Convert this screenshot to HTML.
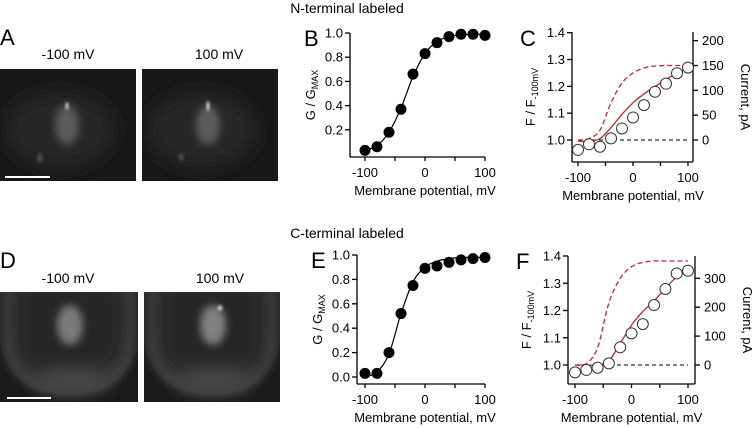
<!DOCTYPE html>
<html><head><meta charset="utf-8">
<style>
html,body{margin:0;padding:0;background:#fff;}
svg{display:block;font-family:"Liberation Sans",Arial,sans-serif;}
</style></head>
<body>
<svg id="fig" width="754" height="428" viewBox="0 0 754 428">
<defs>
<filter id="blur8" x="-50%" y="-50%" width="200%" height="200%"><feGaussianBlur stdDeviation="9"/></filter>
<filter id="blur4" x="-50%" y="-50%" width="200%" height="200%"><feGaussianBlur stdDeviation="4"/></filter>
<filter id="blur1" x="-50%" y="-50%" width="200%" height="200%"><feGaussianBlur stdDeviation="1.2"/></filter>
<clipPath id="cA1"><rect x="0" y="69" width="136" height="112"/></clipPath>
<clipPath id="cA2"><rect x="142" y="69" width="136" height="112"/></clipPath>
<clipPath id="cD1"><rect x="0" y="292" width="138" height="110"/></clipPath>
<clipPath id="cD2"><rect x="144" y="292" width="136" height="110"/></clipPath>
</defs>

<text x="347" y="13" font-size="14" text-anchor="middle">N-terminal labeled</text>
<text x="347" y="238" font-size="14" text-anchor="middle">C-terminal labeled</text>

<g>
<text x="0" y="45" font-size="22">A</text>
<text x="68" y="59" font-size="14" text-anchor="middle">-100 mV</text>
<text x="219" y="59" font-size="14" text-anchor="middle">100 mV</text>
<g clip-path="url(#cA1)">
<rect x="0" y="69" width="136" height="112" fill="#181818"/>
<ellipse cx="60" cy="130" rx="55" ry="38" fill="#262626" filter="url(#blur8)"/>
<ellipse cx="67" cy="125" rx="12" ry="20" fill="#5c5c5c" filter="url(#blur4)"/>
<ellipse cx="67" cy="106" rx="1.5" ry="4" fill="#ccc" filter="url(#blur1)"/>
<ellipse cx="40" cy="158" rx="3" ry="5" fill="#4a4a4a" filter="url(#blur1)"/>
<rect x="5" y="176" width="45" height="2" fill="#fff"/>
</g>
<g clip-path="url(#cA2)">
<rect x="142" y="69" width="136" height="112" fill="#181818"/>
<ellipse cx="202" cy="130" rx="55" ry="38" fill="#262626" filter="url(#blur8)"/>
<ellipse cx="208" cy="125" rx="12" ry="20" fill="#5c5c5c" filter="url(#blur4)"/>
<ellipse cx="208" cy="106" rx="1.5" ry="5" fill="#ddd" filter="url(#blur1)"/>
<ellipse cx="181" cy="157" rx="3" ry="4" fill="#444" filter="url(#blur1)"/>
</g>
</g>

<g>
<text x="0" y="268" font-size="22">D</text>
<text x="68" y="283" font-size="14" text-anchor="middle">-100 mV</text>
<text x="220" y="283" font-size="14" text-anchor="middle">100 mV</text>
<g clip-path="url(#cD1)">
<rect x="0" y="292" width="138" height="110" fill="#1a1a1a"/>
<path d="M2,280 L2,340 Q6,395 69,396 Q132,395 136,340 L136,280 Z" fill="#444" filter="url(#blur4)"/>
<path d="M10,280 L10,338 Q14,383 69,384 Q124,383 128,338 L128,280 Z" fill="#262626" filter="url(#blur8)"/>
<ellipse cx="72" cy="380" rx="38" ry="12" fill="#4a4a4a" filter="url(#blur8)"/>
<ellipse cx="70" cy="325" rx="13" ry="20" fill="#7a7a7a" filter="url(#blur4)"/>
<rect x="7" y="397" width="44" height="2" fill="#fff"/>
</g>
<g clip-path="url(#cD2)">
<rect x="144" y="292" width="136" height="110" fill="#1a1a1a"/>
<path d="M146,280 L146,340 Q150,395 212,396 Q274,395 278,340 L278,280 Z" fill="#444" filter="url(#blur4)"/>
<path d="M154,280 L154,338 Q158,383 212,384 Q266,383 270,338 L270,280 Z" fill="#262626" filter="url(#blur8)"/>
<ellipse cx="214" cy="380" rx="38" ry="12" fill="#4a4a4a" filter="url(#blur8)"/>
<ellipse cx="213" cy="325" rx="13" ry="20" fill="#808080" filter="url(#blur4)"/>
<ellipse cx="220" cy="308" rx="2.5" ry="2.5" fill="#ccc" filter="url(#blur1)"/>
</g>
</g>
</svg>

<script>
// ---- data ----
const voltages = [-100,-80,-60,-40,-20,0,20,40,60,80,100];
const gB = [0.03,0.06,0.18,0.37,0.66,0.83,0.92,0.97,0.99,0.99,0.98];
const fitB = [0.03,0.07,0.18,0.38,0.64,0.83,0.93,0.97,0.985,0.99,0.99];
const gE = [0.03,0.03,0.20,0.52,0.75,0.89,0.91,0.94,0.96,0.97,0.98];
const fitE = [0.0,0.04,0.19,0.52,0.78,0.90,0.95,0.97,0.98,0.98,0.98];
const fC = [0.963,0.984,0.975,1.006,1.043,1.084,1.13,1.18,1.21,1.249,1.27];
const iC_solid = [-2,-3,3,25,52,75,93,108,122,135,145];
const iC_dashed = [0,3,20,75,115,135,145,149,150,150,150];
const fF = [0.973,0.982,0.99,1.006,1.065,1.116,1.15,1.22,1.279,1.336,1.346];
const iF_solid = [0,0,0,15,75,138,185,222,265,305,325];
const iF_dashed = [0,5,60,215,300,340,355,360,360,360,360];
const xTicks = [-100,-50,0,50,100];
const xTickLabels = [-100,0,100];
const yTicksB = [0.2,0.4,0.6,0.8,1.0];
const yTicksE = [0.0,0.2,0.4,0.6,0.8,1.0];
const yTicksF = [1.0,1.1,1.2,1.3,1.4];
const rTicksC = [0,50,100,150,200];
const rTicksF = [0,100,200,300];

const svg = document.getElementById('fig');
const NS = 'http://www.w3.org/2000/svg';
function mk(tag, attrs, parent){
  const e = document.createElementNS(NS, tag);
  for (const k in attrs) e.setAttribute(k, attrs[k]);
  (parent||svg).appendChild(e);
  return e;
}
function lin(d0,d1,r0,r1){ return v => r0 + (v-d0)*(r1-r0)/(d1-d0); }
function smoothPath(pts){
  let d = 'M'+pts[0][0].toFixed(1)+','+pts[0][1].toFixed(1);
  for (let i=0;i<pts.length-1;i++){
    const p0=pts[i-1]||pts[i], p1=pts[i], p2=pts[i+1], p3=pts[i+2]||p2;
    const c1=[p1[0]+(p2[0]-p0[0])/6, p1[1]+(p2[1]-p0[1])/6];
    const c2=[p2[0]-(p3[0]-p1[0])/6, p2[1]-(p3[1]-p1[1])/6];
    d += ' C'+c1[0].toFixed(1)+','+c1[1].toFixed(1)+' '+c2[0].toFixed(1)+','+c2[1].toFixed(1)+' '+p2[0].toFixed(1)+','+p2[1].toFixed(1);
  }
  return d;
}

function xAxis(g, x, axY, x0, x1, title){
  const ax = mk('line',{x1:x0,y1:axY,x2:x1,y2:axY,stroke:'#000','stroke-width':1.3},g);
  
  
  xTicks.forEach(t=>{
    const tk = mk('line',{x1:x(t),y1:axY,x2:x(t),y2:axY+4,stroke:'#000','stroke-width':1.3},g);
    
    
  });
  xTickLabels.forEach(t=>{
    const tl = mk('text',{x:x(t),y:axY+20,'font-size':13,'text-anchor':'middle'},g);
    tl.textContent = t;
    
    
  });
  const tt = mk('text',{x:x(0),y:axY+38,'font-size':13,'text-anchor':'middle'},g);
  tt.textContent = title;
  
  
}
function yAxisLeft(g, y, axX, yTop, yBot, ticks, dec){
  const ax = mk('line',{x1:axX,y1:yTop,x2:axX,y2:yBot,stroke:'#000','stroke-width':1.3},g);
  
  
  ticks.forEach(t=>{
    const tk = mk('line',{x1:axX-5,y1:y(t),x2:axX,y2:y(t),stroke:'#000','stroke-width':1.3},g);
    
    
    const tl = mk('text',{x:axX-7,y:y(t)+4.5,'font-size':13,'text-anchor':'end'},g);
    tl.textContent = t.toFixed(dec);
    
    
  });
}
function yAxisRight(g, y, axX, yTop, yBot, ticks){
  const ax = mk('line',{x1:axX,y1:yTop,x2:axX,y2:yBot,stroke:'#000','stroke-width':1.3},g);
  
  
  ticks.forEach(t=>{
    const tk = mk('line',{x1:axX,y1:y(t),x2:axX+5,y2:y(t),stroke:'#000','stroke-width':1.3},g);
    
    
    const tl = mk('text',{x:axX+9,y:y(t)+4.5,'font-size':13,'text-anchor':'start'},g);
    tl.textContent = t;
    
    
  });
}
function label(g, txt, x, y, name){
  const t = mk('text',{x:x,y:y,'font-size':22},g);
  t.textContent = txt;
  
  
}
function gTitle(g, cx, cy){
  const t = mk('text',{x:0,y:0,'font-size':13,'text-anchor':'middle',transform:'translate('+cx+','+cy+') rotate(-90)'},g);
  t.innerHTML = 'G / G<tspan font-size="9" dy="3">MAX</tspan>';
  
  
}
function fTitle(g, cx, cy){
  const t = mk('text',{x:0,y:0,'font-size':13,'text-anchor':'middle',transform:'translate('+cx+','+cy+') rotate(-90)'},g);
  t.innerHTML = 'F / F<tspan font-size="9" dy="3">-100mV</tspan>';
  
  
}
function curTitle(g, cx, cy){
  const t = mk('text',{x:0,y:0,'font-size':13,'text-anchor':'middle',transform:'translate('+cx+','+cy+') rotate(90)'},g);
  t.textContent = 'Current, pA';
  
  
}

function gPanel(name, lbl, top, axX, yTopPx, y1px, y0px, axY, ticks, dec, pts, fit){
  const g = mk('g',{});
  
  
  const x = lin(-100,100,365,485);
  const y = lin(0,1,y0px,y1px);
  label(g,lbl,axX-46,top,'panel-label-'+lbl.toLowerCase());
  yAxisLeft(g,y,axX,yTopPx,axY,ticks,dec);
  xAxis(g,x,axY,axX,485,'Membrane potential, mV');
  gTitle(g,axX-35,(yTopPx+axY)/2);
  const p = mk('path',{d:smoothPath(voltages.map((v,i)=>[x(v),y(fit[i])])),fill:'none',stroke:'#000','stroke-width':1.2},g);
  
  
  voltages.forEach((v,i)=>{
    const c = mk('circle',{cx:x(v),cy:y(pts[i]),r:5.5,fill:'#000'},g);
    
    
  });
}
gPanel('panel-b','B',46,350,33,33,154,157,yTicksB,1,gB,fitB);
gPanel('panel-e','E',268,357,255,255,377,384,yTicksE,1,gE,fitE);

function fPanel(name, lbl, top, axX, rX, yTop, f14, f10, axY, xm100, x100, rTop, rMax, rTicks, fv, solid, dashed){
  const g = mk('g',{});
  
  
  const x = lin(-100,100,xm100,x100);
  const y = lin(1.0,1.4,f10,f14);
  const yr = lin(0,rMax,f10,rTop);
  label(g,lbl,axX-52,top,'panel-label-'+lbl.toLowerCase());
  yAxisLeft(g,y,axX,yTop,axY,yTicksF,1);
  yAxisRight(g,yr,rX,yTop,axY,rTicks);
  xAxis(g,x,axY,axX,rX,'Membrane potential, mV');
  fTitle(g,axX-37,(yTop+axY)/2);
  curTitle(g,rX+48,(yTop+axY)/2);
  const zl = mk('line',{x1:x(-100),y1:yr(0),x2:x(100),y2:yr(0),stroke:'#000','stroke-width':1,'stroke-dasharray':'4,3'},g);
  
  
  const pd = mk('path',{d:smoothPath(voltages.map((v,i)=>[x(v),yr(dashed[i])])),fill:'none',stroke:'#c0282d','stroke-width':1.3,'stroke-dasharray':'5,3'},g);
  
  
  const ps = mk('path',{d:smoothPath(voltages.map((v,i)=>[x(v),yr(solid[i])])),fill:'none',stroke:'#c0282d','stroke-width':1.3},g);
  
  
  voltages.forEach((v,i)=>{
    const c = mk('circle',{cx:x(v),cy:y(fv[i]),r:5.5,fill:'#fff',stroke:'#333','stroke-width':1},g);
    
    
  });
}
fPanel('panel-c','C',46,572,693,32,32.7,140,162,578,688,40.7,200,rTicksC,fC,iC_solid,iC_dashed);
fPanel('panel-f','F',269,568,695,256,256,365,384,575,688,278.3,300,rTicksF,fF,iF_solid,iF_dashed);
</script>
</body></html>
